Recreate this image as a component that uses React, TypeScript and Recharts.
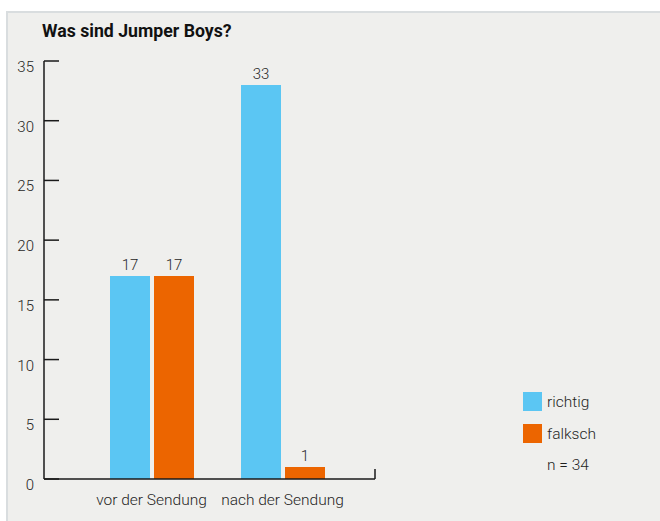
import React from "react";
import * as R from "recharts";
import { BarChart, Bar, XAxis, YAxis, LabelList, Legend } from "recharts";

const categories = ["vor der Sendung", "nach der Sendung"];
const seriesNames = ["richtig", "falksch"];
const richtig = [17, 33];
const falksch = [17, 1];
const yTicks = [0, 5, 10, 15, 20, 25, 30, 35];
const title = "Was sind Jumper Boys?";
const sampleNote = "n = 34";

const data = categories.map((c, i) => ({ cat: c, richtig: richtig[i], falksch: falksch[i] }));

const FONT = "Roboto, 'Noto Sans', sans-serif";
const TEXT = "#1f1f1f";
const BLUE = "#5bc6f3";
const ORANGE = "#ec6500";
const AXIS = "#1a1a1a";
const LIGHT = 300;

const YTick = (props: any) => {
  const { x, y, payload } = props;
  return (
    <text x={x} y={y + 11} textAnchor="end" fontSize={15} fontWeight={LIGHT} fill={TEXT} fontFamily={FONT}>
      {payload.value}
    </text>
  );
};

const XTick = (props: any) => {
  const { x, y, payload } = props;
  return (
    <text x={x} y={y + 18} textAnchor="middle" fontSize={15.5} fontWeight={LIGHT} fill={TEXT} fontFamily={FONT}>
      {payload.value}
    </text>
  );
};

const EndTick = () => {
  const hook: any = (R as any).usePlotArea || (R as any).useOffset;
  const area: any = hook ? hook() : null;
  if (!area) return null;
  const x = area.x !== undefined ? area.x + area.width : area.left + area.width;
  const yb = area.y !== undefined ? area.y + area.height : area.top + area.height;
  if (!isFinite(x) || !isFinite(yb)) return null;
  return <line x1={x} x2={x} y1={yb - 10} y2={yb} stroke={AXIS} strokeWidth={1.5} />;
};

const LegendContent = (props: any) => {
  const payload = [...(props.payload || [])].sort(
    (a: any, b: any) => seriesNames.indexOf(a.value) - seriesNames.indexOf(b.value)
  );
  return (
    <div style={{ fontFamily: FONT, fontSize: 15.5, fontWeight: LIGHT, color: TEXT }}>
      {payload.map((p: any) => (
        <div key={p.value} style={{ display: "flex", alignItems: "center", height: 19, marginBottom: 13 }}>
          <span style={{ display: "inline-block", width: 19, height: 19, background: p.color, marginRight: 5 }} />
          <span>{p.value}</span>
        </div>
      ))}
      <div style={{ paddingLeft: 24, marginTop: 6 }}>{sampleNote}</div>
    </div>
  );
};

export default function App() {
  return (
    <div style={{ position: "absolute", left: 0, top: 0, width: 660, height: 521, background: "#ffffff", overflow: "hidden" }}>
      <div
        style={{
          position: "absolute",
          left: 6,
          top: 11,
          width: 660,
          height: 520,
          background: "#efefed",
          borderLeft: "2px solid #d9dddf",
          borderTop: "2px solid #d9dddf",
          boxSizing: "border-box",
        }}
      />
      <div
        style={{
          position: "absolute",
          left: 42,
          top: 20,
          fontFamily: FONT,
          fontWeight: 700,
          fontSize: 17.7,
          color: "#111",
          lineHeight: "22px",
        }}
      >
        {title}
      </div>
      <div style={{ position: "absolute", left: 0, top: 0 }}>
        <BarChart
          width={660}
          height={521}
          data={data}
          margin={{ top: 61, right: 285, left: 0, bottom: 0 }}
          barGap={4}
          barSize={40}
        >
          <XAxis
            dataKey="cat"
            height={42}
            interval={0}
            padding={{ left: 42, right: 27 }}
            axisLine={{ stroke: AXIS, strokeWidth: 1.5 }}
            tickLine={false}
            tick={<XTick />}
          />
          <YAxis
            width={44}
            domain={[0, 35]}
            ticks={yTicks}
            interval={0}
            axisLine={{ stroke: AXIS, strokeWidth: 1.5 }}
            tickLine={{ stroke: AXIS, strokeWidth: 1.5 }}
            tickSize={-15}
            tickMargin={25}
            tick={<YTick />}
          />
          <Legend
            layout="vertical"
            verticalAlign="middle"
            align="center"
            content={<LegendContent />}
            wrapperStyle={{ position: "absolute", left: 523, top: 392, width: 120 }}
          />
          <Bar dataKey="richtig" name="richtig" fill={BLUE} isAnimationActive={false}>
            <LabelList dataKey="richtig" position="top" offset={6} fill={TEXT} fontSize={15} fontWeight={LIGHT} fontFamily={FONT} />
          </Bar>
          <Bar dataKey="falksch" name="falksch" fill={ORANGE} isAnimationActive={false}>
            <LabelList dataKey="falksch" position="top" offset={6} fill={TEXT} fontSize={15} fontWeight={LIGHT} fontFamily={FONT} />
          </Bar>
          <EndTick />
        </BarChart>
      </div>
    </div>
  );
}
